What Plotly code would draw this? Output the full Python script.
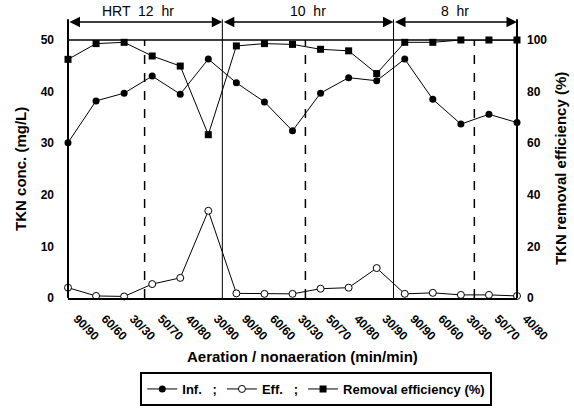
import plotly.graph_objects as go

# ---- data ----
tick_labels = ["90/90", "60/60", "30/30", "50/70", "40/80", "30/90",
               "90/90", "60/60", "30/30", "50/70", "40/80", "30/90",
               "90/90", "60/60", "30/30", "50/70", "40/80"]
x_pos = list(range(len(tick_labels)))
inf_conc = [30.1, 38.2, 39.7, 43.0, 39.5, 46.3,
            41.7, 38.0, 32.4, 39.7, 42.7, 42.1,
            46.3, 38.5, 33.7, 35.6, 34.0]
eff_conc = [2.0, 0.4, 0.3, 2.7, 3.9, 16.9,
            0.9, 0.8, 0.8, 1.8, 2.0, 5.8,
            0.8, 1.0, 0.6, 0.6, 0.4]
removal = [92.5, 98.6, 99.1, 93.8, 89.9, 63.3,
           97.7, 98.6, 98.3, 96.4, 95.8, 87.0,
           99.1, 99.1, 100.0, 100.0, 100.0]
hrt_labels = ["HRT  12  hr", "10  hr", "8  hr"]
hrt_bounds = [0, 5.5, 11.6, 16]
dashed_pos = [2.73, 8.46, 14.48]

FONT = "Liberation Sans, Arial, sans-serif"

fig = go.Figure()
fig.add_trace(go.Scatter(
    x=x_pos, y=inf_conc, name="Inf.   ;", mode="lines+markers",
    line=dict(color="black", width=1),
    marker=dict(symbol="circle", size=7, color="black"),
    cliponaxis=False))
fig.add_trace(go.Scatter(
    x=x_pos, y=eff_conc, name="Eff.   ;", mode="lines+markers",
    line=dict(color="black", width=1),
    marker=dict(symbol="circle", size=7, color="white",
                line=dict(color="black", width=1)),
    cliponaxis=False))
fig.add_trace(go.Scatter(
    x=x_pos, y=removal, name="Removal efficiency (%)", mode="lines+markers",
    yaxis="y2",
    line=dict(color="black", width=1),
    marker=dict(symbol="square", size=7, color="black"),
    cliponaxis=False))

shapes = []
shapes.append(dict(type="line", xref="paper", yref="paper", x0=0, x1=1, y0=1, y1=1,
                   line=dict(color="black", width=1.5)))
for xp in [0, 1]:
    shapes.append(dict(type="line", xref="paper", yref="paper", x0=xp, x1=xp,
                       y0=0, y1=1.08, line=dict(color="black", width=2)))
for b in hrt_bounds[1:-1]:
    shapes.append(dict(type="line", xref="x", yref="paper", x0=b, x1=b,
                       y0=0, y1=1.08, line=dict(color="black", width=1)))
for d in dashed_pos:
    shapes.append(dict(type="line", xref="x", yref="paper", x0=d, x1=d,
                       y0=0, y1=1, line=dict(color="black", width=1.5, dash="dash")))

annotations = []
for i, lab in enumerate(hrt_labels):
    a, b = hrt_bounds[i], hrt_bounds[i + 1]
    annotations.append(dict(
        x=b, y=1.07, xref="x", yref="paper", ax=a, ay=0, axref="x", ayref="pixel",
        text="", showarrow=True, arrowhead=2, arrowside="end+start",
        arrowsize=1.4, arrowwidth=1.5, arrowcolor="black"))
    annotations.append(dict(
        x=(a + b) / 2 + (-0.25 if i == 0 else 0), y=1.072, xref="x", yref="paper",
        text=lab, showarrow=False, yanchor="bottom", xanchor="center",
        font=dict(family=FONT, size=14, color="black")))

annotations.append(dict(x=0.523, y=-0.225, xref="paper", yref="paper",
                        xanchor="center", yanchor="middle",
                        text="<b>Aeration / nonaeration (min/min)</b>", showarrow=False,
                        font=dict(family=FONT, size=15, color="black")))
annotations.append(dict(x=-0.107, y=0.5, xref="paper", yref="paper", textangle=-90,
                        xanchor="center", yanchor="middle",
                        text="<b>TKN conc. (mg/L)</b>", showarrow=False,
                        font=dict(family=FONT, size=15, color="black")))
annotations.append(dict(x=1.096, y=0.5, xref="paper", yref="paper", textangle=-90,
                        xanchor="center", yanchor="middle",
                        text="<b>TKN removal efficiency (%)</b>", showarrow=False,
                        font=dict(family=FONT, size=15, color="black")))

fig.update_layout(
    width=574, height=408,
    margin=dict(l=68, r=57, t=40, b=110, autoexpand=False),
    paper_bgcolor="white", plot_bgcolor="white",
    font=dict(family=FONT, color="black"),
    showlegend=True,
    legend=dict(orientation="h", xref="container", yref="container",
                x=0.551, y=1 - 372 / 408, xanchor="center", yanchor="top",
                bordercolor="black", borderwidth=2, bgcolor="white",
                font=dict(family=FONT, size=13, color="black", weight="bold"),
                itemwidth=30, tracegroupgap=0),
    xaxis=dict(range=[0, 16], tickmode="array", tickvals=x_pos, ticktext=tick_labels,
               tickangle=45, showgrid=False, zeroline=False, automargin=False,
               showline=True, linecolor="black", linewidth=2,
               ticks="", ticklabelstandoff=7, ticklabelshift=9,
               tickfont=dict(family=FONT, size=12, color="black", weight="bold")),
    yaxis=dict(range=[0, 50], tickvals=[0, 10, 20, 30, 40, 50], showgrid=False,
               zeroline=False, showline=False, ticks="", ticklabelstandoff=13,
               automargin=False,
               tickfont=dict(family=FONT, size=12, color="black", weight="bold")),
    yaxis2=dict(range=[0, 100], tickvals=[0, 20, 40, 60, 80, 100], overlaying="y",
                side="right", showgrid=False, zeroline=False, showline=False,
                ticks="", ticklabelstandoff=9, automargin=False,
                tickfont=dict(family=FONT, size=12, color="black", weight="bold")),
    shapes=shapes, annotations=annotations,
)

fig.write_html("out.html")
